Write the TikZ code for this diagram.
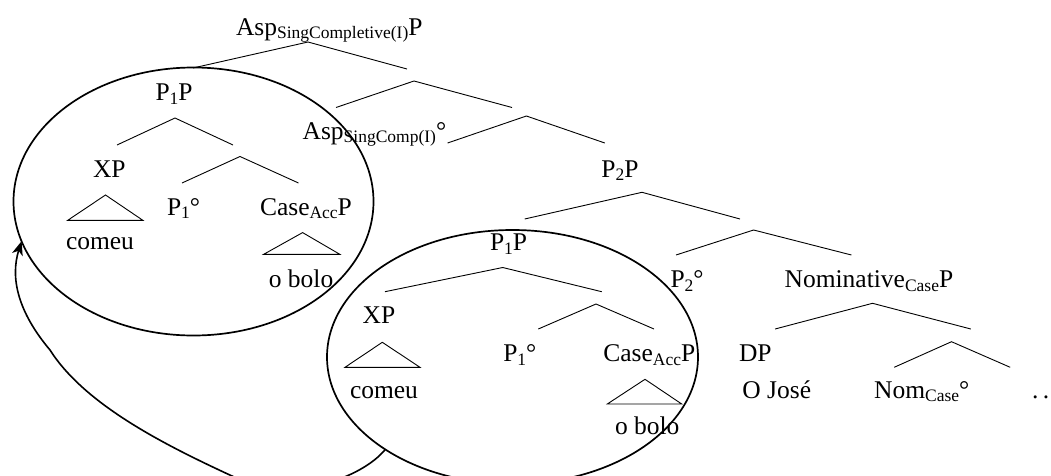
\documentclass[tikz,border=0pt]{standalone}
\usepackage{fontspec}
\setmainfont{Liberation Serif}
\usetikzlibrary{shapes.geometric,arrows.meta}

% lowered, reduced index text
\newcommand\sub[1]{\raisebox{-3.5pt}{\fontsize{17.5}{18}\selectfont #1}}

% a binary branch: apex, left foot, right foot
\newcommand\branch[4]{%
  \coordinate (#1) at (#2); \coordinate (#1-l) at (#3); \coordinate (#1-r) at (#4);
  \draw[branchline] (#1-l) -- (#1) -- (#1-r);}
% a roof (triangle) over an unanalysed constituent
\newcommand\roof[4]{%
  \coordinate (#1) at (#2); \coordinate (#1-l) at (#3); \coordinate (#1-r) at (#4);
  \draw[branchline] (#1-l) -- (#1) -- (#1-r) -- cycle;}

\tikzset{
  branchline/.style={line width=0.9pt, line join=miter},
  lbl/.style={anchor=base west, inner sep=0pt, outer sep=0pt,
              font=\fontsize{25.5}{30}\selectfont},
  ring/.style={draw, ellipse, line width=1.7pt, inner sep=0pt, outer sep=0pt},
  movearrow/.style={line width=1.6pt, -{Stealth[length=14pt,width=11pt,inset=4pt]}}
}

\begin{document}
\begin{tikzpicture}[x=1pt,y=-1pt]
\useasboundingbox (0,0) rectangle (1051,476);

% ---- labels ----
\node[lbl] (top)    at (236,35.5)  {Asp\sub{SingCompletive(I)}P};
\node[lbl] (p1pA)   at (155.5,101) {P\sub{1}P};
\node[lbl] (aspc)   at (302.6,139.3) {Asp\sub{SingComp(I)}°};
\node[lbl] (xpA)    at (93,177.5)  {XP};
\node[lbl] (p1hA)   at (167,215)   {P\sub{1}°};
\node[lbl] (caseA)  at (260,215)   {Case\sub{Acc}P};
\node[lbl] (comeuA) at (66,249.3)  {comeu};
\node[lbl] (boloA)  at (268.8,287.5) {o bolo};
\node[lbl] (p2p)    at (601.4,177) {P\sub{2}P};
\node[lbl] (p1pB)   at (490,250.5) {P\sub{1}P};
\node[lbl] (p2h)    at (670.5,287.5) {P\sub{2}°};
\node[lbl] (nom)    at (784.6,287.5) {Nominative\sub{Case}P};
\node[lbl] (xpB)    at (362.7,323.5) {XP};
\node[lbl] (p1hB)   at (503.3,361.7) {P\sub{1}°};
\node[lbl] (caseB)  at (603.3,361.7) {Case\sub{Acc}P};
\node[lbl] (dp)     at (739,361.7)   {DP};
\node[lbl] (comeuB) at (350,398.5)   {comeu};
\node[lbl] (jose)   at (742.4,398.3) {O José};
\node[lbl] (nomh)   at (874.2,398.3) {Nom\sub{Case}°};
\node[lbl] (dots)   at (1032,398.3)  {.\kern4.6pt.};
\node[lbl] (boloB)  at (615,434)     {o bolo};

% ---- branches ----
\branch{b1}{308,42}{193,68}{407,69}
\branch{b2}{414,81}{336,107.5}{512,107.5}
\branch{b3}{526.4,116}{447.6,143}{604.8,143}
\branch{b4}{175,118}{117,145}{233,145}
\branch{b5}{240,156.5}{182,183}{298.5,183}
\branch{b6}{642,192.3}{524.7,219}{740,219}
\branch{b7}{753.6,230}{676,255}{851.4,255}
\branch{b8}{502.7,267.5}{385,291.7}{601.7,291.7}
\branch{b9}{596,304}{538.3,329}{654,329}
\branch{b10}{872.5,303.3}{775.1,329}{970.8,329}
\branch{b11}{951.5,341.7}{894.2,367.3}{1010.2,367.3}

% ---- roofs ----
\roof{t1}{105.5,195}{67.6,220.4}{143,220.4}
\roof{t2}{302.6,232.6}{263.7,254.3}{339.8,254.3}
\roof{t3}{382.3,342.3}{345,367.3}{420,367.3}
\roof{t4}{645,379.3}{607.3,404}{681.7,404}

% ---- encircled P1P constituents ----
\node[ring, minimum width=360pt, minimum height=268pt] (e1) at (193.5,201.5) {};
\node[ring, minimum width=371pt, minimum height=254pt] (e2) at (512.5,357) {};

% ---- movement arrow ----
\draw[movearrow] (e2.216) .. controls (362,478) and (290,505) .. (232,476)
  .. controls (165,445) and (85,405) .. (50,350)
  .. controls (18,312) and (10,278) .. (e1.193.5);
\end{tikzpicture}
\end{document}
